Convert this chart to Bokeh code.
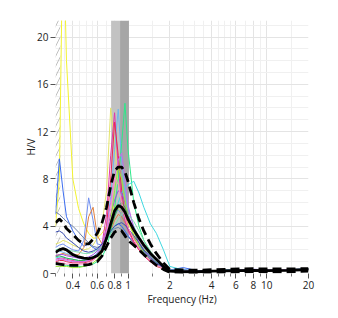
from bokeh.plotting import figure
from bokeh.models import FixedTicker, CustomJSTickFormatter
from bokeh.embed import file_html
from bokeh.resources import INLINE

# Frequencies (Hz) shared by all curves
F = [0.3, 0.32, 0.34, 0.36, 0.4, 0.44, 0.48, 0.52, 0.56, 0.6, 0.65, 0.7, 0.75, 0.8, 0.85,
     0.9, 0.95, 1.0, 1.1, 1.2, 1.3, 1.45, 1.6, 1.8, 2.0, 2.5, 3.2, 4, 5, 6.3, 8, 10, 14, 20]

# individual window H/V curves
c1 = [4, 8, 30, 18, 8, 5.5, 4.2, 3.4, 3.0, 3.0, 3.4, 4.0, 5.0, 5.8, 5.5, 5.0, 4.6, 4.2, 3.4, 2.7, 2.1, 1.5, 1.0, 0.6, 0.3, 0.25, 0.2, 0.25, 0.28, 0.3, 0.33, 0.3, 0.32, 0.4]
c2 = [2.5, 2.6, 2.8, 2.7, 2.4, 2.2, 2.0, 2.1, 2.4, 3.0, 4.2, 7.0, 14.0, 11.0, 7.5, 6.0, 5.0, 4.3, 3.2, 2.5, 1.9, 1.3, 0.9, 0.5, 0.3, 0.22, 0.2, 0.24, 0.27, 0.3, 0.32, 0.3, 0.33, 0.38]
c3 = [5.0, 9.7, 7.0, 4.8, 3.6, 2.8, 2.3, 2.5, 2.2, 2.0, 2.3, 2.8, 3.5, 4.0, 4.2, 4.0, 3.6, 3.2, 2.6, 2.2, 1.8, 1.3, 0.9, 0.5, 0.3, 0.5, 0.22, 0.24, 0.26, 0.3, 0.32, 0.3, 0.32, 0.36]
c4 = [2.2, 2.4, 2.5, 2.3, 2.0, 1.9, 2.8, 6.4, 4.5, 2.5, 2.4, 3.0, 4.0, 5.0, 5.4, 5.0, 4.4, 3.8, 3.0, 2.4, 1.8, 1.2, 0.8, 0.5, 0.3, 0.28, 0.22, 0.25, 0.27, 0.3, 0.35, 0.32, 0.33, 0.37]
c5 = [1.5, 1.6, 1.7, 1.6, 1.5, 1.6, 2.2, 4.8, 5.6, 3.2, 2.5, 2.8, 3.6, 4.5, 5.0, 4.8, 4.3, 3.8, 3.0, 2.3, 1.7, 1.2, 0.8, 0.5, 0.3, 0.25, 0.2, 0.23, 0.26, 0.3, 0.34, 0.3, 0.34, 0.4]
c6 = [5.2, 5.0, 4.7, 4.4, 4.0, 3.5, 3.0, 2.6, 2.3, 2.2, 2.4, 2.8, 3.4, 3.8, 3.9, 3.7, 3.4, 3.1, 2.6, 2.1, 1.7, 1.2, 0.8, 0.5, 0.3, 0.26, 0.22, 0.24, 0.28, 0.3, 0.33, 0.31, 0.32, 0.37]
c7 = [1.2, 1.3, 1.3, 1.2, 1.1, 1.0, 1.0, 1.1, 1.3, 1.6, 2.5, 5.0, 10.0, 13.6, 9.0, 6.0, 4.5, 3.6, 2.6, 2.0, 1.5, 1.0, 0.7, 0.4, 0.2, 0.2, 0.18, 0.22, 0.25, 0.28, 0.3, 0.28, 0.3, 0.35]
c8 = [1.8, 1.9, 1.8, 1.7, 1.5, 1.3, 1.2, 1.2, 1.4, 1.7, 2.4, 3.8, 6.5, 10.5, 13.9, 9.5, 7.0, 5.5, 4.0, 3.0, 2.2, 1.5, 1.0, 0.6, 0.3, 0.25, 0.2, 0.22, 0.26, 0.3, 0.32, 0.3, 0.32, 0.38]
c9 = [0.8, 0.8, 0.7, 0.7, 0.6, 0.6, 0.6, 0.7, 0.8, 1.0, 1.4, 2.2, 3.5, 5.5, 8.0, 11.0, 14.4, 10.5, 6.0, 4.0, 2.8, 1.8, 1.2, 0.6, 0.3, 0.22, 0.2, 0.22, 0.25, 0.28, 0.3, 0.28, 0.3, 0.36]
c10 = [1.0, 1.1, 1.1, 1.0, 0.9, 0.9, 0.9, 1.0, 1.2, 1.5, 2.2, 4.0, 8.0, 12.8, 10.0, 7.0, 5.0, 3.8, 2.7, 2.0, 1.5, 1.0, 0.6, 0.4, 0.2, 0.2, 0.18, 0.2, 0.24, 0.27, 0.3, 0.28, 0.3, 0.34]
c11 = [1.3, 1.4, 1.4, 1.3, 1.2, 1.1, 1.1, 1.2, 1.4, 1.7, 2.2, 3.0, 4.0, 5.0, 6.0, 6.8, 7.2, 7.5, 7.8, 6.8, 5.6, 4.2, 3.4, 2.0, 0.6, 0.3, 0.22, 0.24, 0.27, 0.3, 0.33, 0.3, 0.32, 0.38]
c12 = [1.5, 1.6, 1.6, 1.5, 1.4, 1.3, 1.3, 1.4, 1.6, 1.9, 2.5, 3.5, 5.0, 6.2, 7.0, 6.8, 6.0, 5.0, 3.6, 2.6, 1.9, 1.3, 0.8, 0.5, 0.3, 0.25, 0.2, 0.23, 0.26, 0.3, 0.35, 0.32, 0.33, 0.4]
c13 = [0.6, 0.6, 0.6, 0.6, 0.5, 0.5, 0.6, 0.7, 0.9, 1.2, 1.8, 2.8, 4.5, 7.0, 9.0, 8.0, 6.2, 4.8, 3.2, 2.3, 1.7, 1.1, 0.7, 0.4, 0.2, 0.2, 0.18, 0.2, 0.24, 0.27, 0.3, 0.28, 0.3, 0.36]
c14 = [1.4, 1.5, 1.4, 1.3, 1.2, 1.1, 1.1, 1.2, 1.4, 1.6, 2.0, 2.8, 3.8, 4.8, 5.6, 6.0, 5.6, 4.8, 3.6, 2.6, 1.9, 1.3, 0.9, 0.5, 0.3, 0.24, 0.2, 0.22, 0.26, 0.29, 0.32, 0.3, 0.31, 0.36]
c15 = [1.1, 1.2, 1.2, 1.1, 1.0, 1.0, 1.0, 1.1, 1.3, 1.7, 2.4, 3.8, 6.0, 8.2, 9.6, 10.2, 8.0, 5.8, 3.8, 2.7, 2.0, 1.3, 0.8, 0.5, 0.3, 0.22, 0.2, 0.22, 0.25, 0.28, 0.31, 0.29, 0.3, 0.35]
c16 = [2.0, 2.1, 2.1, 2.0, 1.9, 1.8, 1.7, 1.7, 1.8, 2.0, 2.3, 2.8, 3.4, 4.0, 4.6, 5.0, 5.2, 5.0, 4.4, 3.6, 2.8, 1.9, 1.2, 0.6, 0.3, 0.26, 0.22, 0.24, 0.27, 0.3, 0.34, 0.31, 0.33, 0.39]
c17 = [3.5, 3.6, 3.4, 3.0, 2.6, 2.2, 1.9, 1.8, 1.9, 2.1, 2.5, 3.0, 3.6, 4.0, 4.2, 4.3, 4.1, 3.8, 3.2, 2.6, 2.0, 1.4, 0.9, 0.5, 0.3, 0.3, 0.22, 0.24, 0.27, 0.3, 0.33, 0.3, 0.32, 0.38]
c18 = [0.9, 0.9, 0.9, 0.8, 0.8, 0.8, 0.8, 0.9, 1.1, 1.4, 2.0, 3.4, 5.5, 8.2, 7.5, 6.0, 4.8, 3.9, 2.9, 2.1, 1.6, 1.1, 0.7, 0.4, 0.2, 0.2, 0.18, 0.2, 0.24, 0.27, 0.3, 0.28, 0.3, 0.35]

curves = [c1, c2, c3, c4, c5, c6, c7, c8, c9, c10, c11, c12, c13, c14, c15, c16, c17, c18]
colors = ["#f2f230", "#e4e46a", "#3b6cf0", "#6f8ff0", "#e08040", "#6a7fa8", "#e03aa8", "#6db6ec",
          "#2de88a", "#e82a55", "#3fd8e0", "#9a4ee0", "#9ae83a", "#3ab050", "#c56de8", "#80e0b0",
          "#3a4db0", "#ff8cc8"]

# average and +/- std curves
mean_hv = [1.8, 2.0, 2.1, 2.0, 1.6, 1.4, 1.3, 1.25, 1.35, 1.5, 1.9, 3.0, 4.2, 5.3, 5.75, 5.6, 5.2, 4.6, 3.7, 3.0, 2.4, 1.7, 1.2, 0.6, 0.2, 0.15, 0.15, 0.2, 0.22, 0.25, 0.27, 0.25, 0.26, 0.32]
upper_hv = [4.3, 4.6, 4.3, 3.8, 3.3, 2.8, 2.5, 2.5, 2.9, 3.4, 4.3, 5.6, 7.4, 8.7, 9.0, 9.0, 8.6, 7.8, 6.0, 4.6, 3.6, 2.5, 1.7, 0.9, 0.35, 0.3, 0.28, 0.32, 0.35, 0.38, 0.4, 0.38, 0.38, 0.42]
lower_hv = [0.85, 0.8, 0.75, 0.7, 0.68, 0.68, 0.72, 0.75, 0.85, 1.0, 1.5, 2.3, 3.0, 3.5, 3.7, 3.6, 3.2, 2.8, 2.4, 2.0, 1.6, 1.1, 0.7, 0.35, 0.1, 0.08, 0.08, 0.1, 0.12, 0.14, 0.16, 0.14, 0.15, 0.2]

# f0 +/- std bands
band_left = [0.755, 0.876]
band_right = [0.876, 1.015]
band_colors = ["#c2c2c2", "#a6a6a6"]

hatch_f = [0.3, 0.325]

x_ticks = [0.4, 0.6, 0.8, 1, 2, 4, 6, 8, 10, 20]
x_minor = [0.3, 0.35, 0.45, 0.5, 0.55, 0.7, 0.9, 1.5, 2.5, 3, 3.5, 4.5, 5, 5.5, 7, 9, 15]
y_ticks = [0, 4, 8, 12, 16, 20]
y_minor = [1, 2, 3, 5, 6, 7, 9, 10, 11, 13, 14, 15, 17, 18, 19, 21]

X_MIN, X_MAX = 0.3, 20
Y_MIN, Y_MAX = 0, 21.4

p = figure(width=338, height=318, x_axis_type="log", x_range=(X_MIN, X_MAX), y_range=(Y_MIN, Y_MAX),
           output_backend="svg", toolbar_location=None,
           min_border_left=55, min_border_right=30, min_border_top=20, min_border_bottom=45)
p.outline_line_color = None
p.background_fill_color = "white"
p.border_fill_color = "white"

# grids
p.xgrid.ticker = FixedTicker(ticks=x_ticks, minor_ticks=x_minor)
p.ygrid.ticker = FixedTicker(ticks=y_ticks, minor_ticks=y_minor)
for g in (p.xgrid, p.ygrid):
    g.grid_line_color = "#e4e4e4"
    g.minor_grid_line_color = "#f0f0f0"

# bands
p.quad(left=band_left, right=band_right, bottom=Y_MIN, top=Y_MAX, fill_color=band_colors, line_color=None)
p.quad(left=[hatch_f[0]], right=[hatch_f[1]], bottom=Y_MIN, top=Y_MAX, fill_alpha=0, line_color=None,
       hatch_pattern="/", hatch_color="#c0c0c0", hatch_scale=10, hatch_weight=1)

for vals, col in zip(curves, colors):
    p.line(F, vals, line_color=col, line_width=1)

p.line(F, upper_hv, line_color="black", line_width=2.8, line_dash="9 5")
p.line(F, lower_hv, line_color="black", line_width=2.8, line_dash="9 5")
p.line(F, mean_hv, line_color="black", line_width=2.8)

# axes
xa = p.xaxis[0]
xa.ticker = FixedTicker(ticks=x_ticks, minor_ticks=x_minor)
xa.formatter = CustomJSTickFormatter(code="return tick.toString();")
xa.axis_label = "Frequency (Hz)"
ya = p.yaxis[0]
ya.ticker = FixedTicker(ticks=y_ticks, minor_ticks=[])
ya.axis_label = "H/V"
for ax in (xa, ya):
    ax.axis_line_color = None
    ax.major_tick_line_color = "#555555"
    ax.major_tick_in = 0
    ax.major_tick_out = 5
    ax.minor_tick_line_color = "#777777"
    ax.minor_tick_in = 0
    ax.minor_tick_out = 3
    ax.major_label_text_font = "Open Sans"
    ax.major_label_text_font_size = "10px"
    ax.major_label_text_color = "#222222"
    ax.axis_label_text_font = "Open Sans"
    ax.axis_label_text_font_size = "10px"
    ax.axis_label_text_font_style = "normal"
    ax.axis_label_text_color = "#222222"
    ax.major_label_standoff = 2
xa.axis_label_standoff = 0
ya.axis_label_standoff = -4

open("out.html", "w").write(file_html(p, INLINE))
